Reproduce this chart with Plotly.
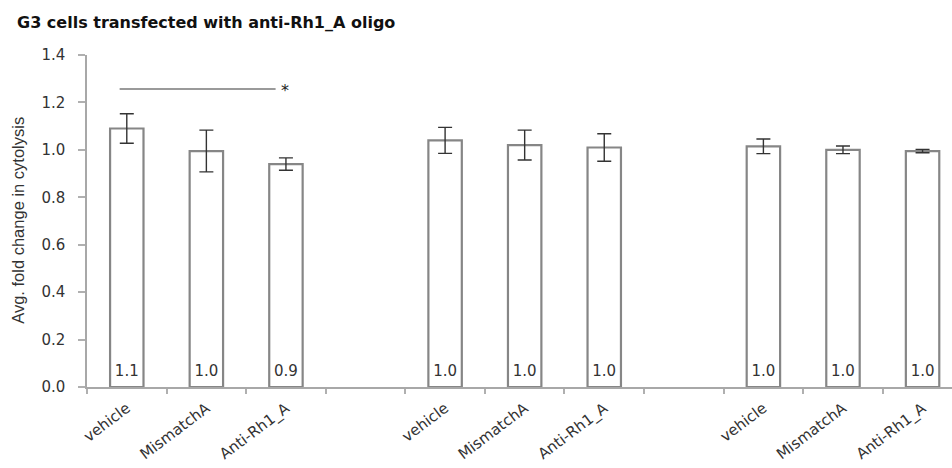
import plotly.graph_objects as go

# ---- data ----
categories = ["vehicle", "MismatchA", "Anti-Rh1_A", " ",
              "vehicle ", "MismatchA ", "Anti-Rh1_A ", "  ",
              "vehicle  ", "MismatchA  ", "Anti-Rh1_A  "]
tick_labels = ["vehicle", "MismatchA", "Anti-Rh1_A", "",
               "vehicle", "MismatchA", "Anti-Rh1_A", "",
               "vehicle", "MismatchA", "Anti-Rh1_A"]
values = [1.09, 0.995, 0.94, None, 1.04, 1.02, 1.01, None, 1.015, 1.0, 0.995]
errors = [0.062, 0.088, 0.026, None, 0.055, 0.063, 0.058, None, 0.031, 0.016, 0.007]
value_labels = ["1.1", "1.0", "0.9", "", "1.0", "1.0", "1.0", "", "1.0", "1.0", "1.0"]
sig_y = 1.257
sig_x0, sig_x1 = -0.09, 1.87

FONT = "DejaVu Sans, Verdana, sans-serif"

fig = go.Figure()
fig.add_trace(go.Bar(
    x=categories, y=values,
    width=0.42,
    marker=dict(color="white", line=dict(color="#868686", width=2.2)),
    error_y=dict(type="data", array=errors, visible=True,
                 color="#333333", thickness=1.4, width=7),
    showlegend=False, hoverinfo="skip",
))
# value labels at the bottom of each bar
fig.add_trace(go.Scatter(
    x=[c for c, v in zip(categories, values) if v is not None],
    y=[0.062] * sum(v is not None for v in values),
    mode="text",
    text=[t for t, v in zip(value_labels, values) if v is not None],
    textposition="middle center",
    textfont=dict(family=FONT, size=15, color="#333333"),
    showlegend=False, hoverinfo="skip",
))

# significance line and asterisk
fig.add_shape(type="line", xref="x", yref="y",
              x0=sig_x0, x1=sig_x1, y0=sig_y, y1=sig_y,
              line=dict(color="#9a9a9a", width=2))
fig.add_annotation(x=sig_x1, y=sig_y, xref="x", yref="y", text="*",
                   showarrow=False, xanchor="left", xshift=3, yshift=-2,
                   font=dict(family=FONT, size=16, color="#222222"))

# y-axis title as annotation
fig.add_annotation(xref="paper", yref="paper", x=-0.08, y=0.503,
                   text="Avg. fold change in cytolysis", textangle=-90,
                   showarrow=False, xanchor="center", yanchor="middle",
                   font=dict(family="Liberation Sans Narrow, Arial Narrow, Liberation Sans",
                             size=16.5, color="#333333"))

fig.update_layout(
    width=952, height=468,
    margin=dict(l=87, r=0, t=55, b=81),
    paper_bgcolor="white", plot_bgcolor="white",
    title=dict(text="<b>G3 cells transfected with anti-Rh1_A oligo</b>",
               x=17 / 952, xanchor="left", y=1 - 22 / 468, yanchor="middle",
               font=dict(family=FONT, size=16, color="#111111")),
    font=dict(family=FONT, color="#333333"),
)
fig.update_xaxes(
    type="category", categoryorder="array", categoryarray=categories,
    tickvals=categories, ticktext=tick_labels,
    range=[-0.5, 10.37],
    tickson="boundaries", ticks="outside", ticklen=5, tickcolor="#b0b0b0",
    tickwidth=1.5, ticklabelstandoff=5,
    showline=True, linecolor="#a8a8a8", linewidth=1.5,
    showgrid=False, tickangle=-37,
    tickfont=dict(family=FONT, size=15, color="#333333"),
)
fig.update_yaxes(
    range=[0, 1.4], tickvals=[0, 0.2, 0.4, 0.6, 0.8, 1.0, 1.2, 1.4],
    tickformat=".1f",
    ticks="outside", ticklen=7, tickcolor="#b0b0b0", tickwidth=1.5,
    ticklabelstandoff=10,
    showline=True, linecolor="#a8a8a8", linewidth=1.5,
    showgrid=False, zeroline=False,
    tickfont=dict(family=FONT, size=15, color="#333333"),
)

fig.write_html("out.html")
